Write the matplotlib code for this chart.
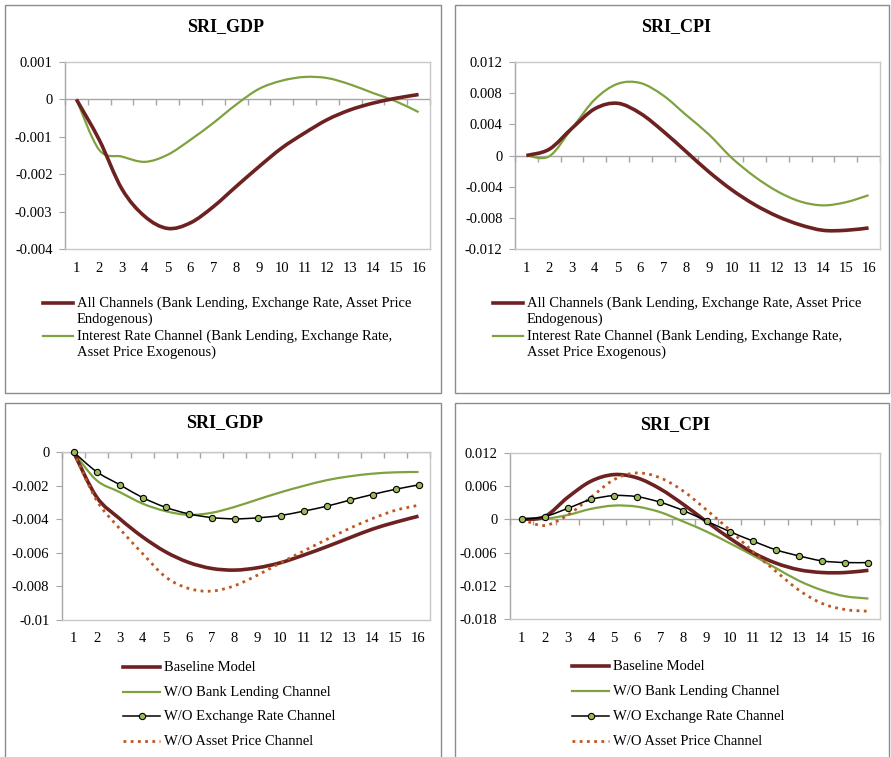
import matplotlib
matplotlib.use("Agg")
import matplotlib.pyplot as plt
import numpy as np
from matplotlib.path import Path
from matplotlib.patches import PathPatch, Rectangle
from matplotlib.lines import Line2D

# -----------------------------------------------------------------------
# Data
# -----------------------------------------------------------------------
periods = list(range(1, 17))

# top row: all channels vs interest-rate channel only
gdp_all = [0, -0.00108, -0.0024, -0.00313, -0.00345, -0.0033, -0.00287, -0.00233,
           -0.0018, -0.0013, -0.0009, -0.00054, -0.00028, -0.0001, 0.00003, 0.00013]
gdp_irc = [0, -0.00135, -0.00153, -0.00167, -0.00148, -0.00108, -0.00063, -0.00014,
           0.00028, 0.0005, 0.0006, 0.00057, 0.0004, 0.00017, -0.00005, -0.00034]
cpi_all = [0, 0.0008, 0.0035, 0.006, 0.0067, 0.0054, 0.0031, 0.0005,
           -0.0021, -0.0044, -0.0063, -0.0078, -0.0089, -0.0096, -0.0096, -0.0093]
cpi_irc = [0, -0.0001, 0.0035, 0.0072, 0.0092, 0.0093, 0.0077, 0.0052,
           0.0027, -0.0003, -0.0027, -0.0046, -0.0059, -0.0064, -0.006, -0.0051]

# bottom row: baseline vs one channel switched off
gdp_base = [0, -0.00267, -0.00396, -0.00505, -0.00594, -0.00657, -0.00693, -0.00703,
            -0.00689, -0.00659, -0.00614, -0.00564, -0.00511, -0.00459, -0.00418, -0.00382]
gdp_nobl = [0, -0.00168, -0.00238, -0.00307, -0.00352, -0.00374, -0.00362, -0.00327,
            -0.00283, -0.0024, -0.00202, -0.00168, -0.00145, -0.00129, -0.00121, -0.00119]
gdp_noer = [0, -0.00117, -0.00194, -0.00271, -0.00329, -0.00368, -0.0039, -0.00398,
            -0.00392, -0.00378, -0.00352, -0.00323, -0.00287, -0.00253, -0.00222, -0.00196]
gdp_noap = [0, -0.00287, -0.00455, -0.00604, -0.00743, -0.00812, -0.00828, -0.00796,
            -0.00733, -0.0066, -0.0059, -0.00521, -0.00455, -0.00396, -0.00347, -0.00317]

cpi_base = [0, 0.0005, 0.004, 0.0069, 0.0081, 0.0075, 0.0055, 0.0027,
            -0.0004, -0.0034, -0.006, -0.0079, -0.0091, -0.0096, -0.0096, -0.0092]
cpi_nobl = [0, 0.0001, 0.0008, 0.0019, 0.0025, 0.0023, 0.0013, -0.0004,
            -0.0022, -0.0043, -0.0065, -0.0088, -0.0111, -0.0128, -0.0139, -0.0143]
cpi_noer = [0, 0.0005, 0.002, 0.0036, 0.0043, 0.0041, 0.0031, 0.0016,
            -0.0003, -0.0022, -0.0039, -0.0055, -0.0066, -0.0075, -0.0078, -0.0078]
cpi_noap = [0, -0.0011, 0.0008, 0.004, 0.0072, 0.0084, 0.0075, 0.0051,
            0.0017, -0.0019, -0.0058, -0.0094, -0.0128, -0.0152, -0.0163, -0.0166]

top_labels = ["All Channels (Bank Lending, Exchange Rate, Asset Price\nEndogenous)",
              "Interest Rate Channel (Bank Lending, Exchange Rate,\nAsset Price Exogenous)"]
bottom_labels = ["Baseline Model", "W/O Bank Lending Channel",
                 "W/O Exchange Rate Channel", "W/O Asset Price Channel"]

# -----------------------------------------------------------------------
# Style
# -----------------------------------------------------------------------
plt.rcParams["font.family"] = ["Liberation Serif", "DejaVu Serif"]
DARKRED = "#6E2121"
GREEN = "#7EA23F"
ORANGE = "#C0571E"
MARKER_FILL = "#9BBB59"
GRID = "#A6A6A6"

W, H = 891, 757
fig = plt.figure(figsize=(W / 100, H / 100), dpi=100)


def px_axes(left, top, right, bottom):
    return fig.add_axes([left / W, 1 - bottom / H, (right - left) / W, (bottom - top) / H])


def smooth_line(ax, x, y, color, lw, ls="-"):
    """Excel-like smoothed line (Catmull-Rom as cubic Bezier)."""
    x = np.asarray(x, float)
    y = np.asarray(y, float)
    P = np.column_stack([x, y])
    Pe = np.vstack([P[0], P, P[-1]])
    verts = [P[0]]
    codes = [Path.MOVETO]
    for i in range(len(P) - 1):
        p0, p1, p2, p3 = Pe[i], Pe[i + 1], Pe[i + 2], Pe[i + 3]
        verts += [p1 + (p2 - p0) / 6, p2 - (p3 - p1) / 6, p2]
        codes += [Path.CURVE4] * 3
    patch = PathPatch(Path(verts, codes), facecolor="none", edgecolor=color,
                      lw=lw, linestyle=ls, zorder=3, capstyle="butt")
    ax.add_patch(patch)


def style_axes(ax, ylim, yticks, ylabels):
    ax.set_xlim(0.5, 16.5)
    ax.set_ylim(*ylim)
    ax.set_yticks(yticks)
    ax.set_yticklabels(ylabels)
    ax.set_xticks(periods)
    ax.set_xticklabels([str(p) for p in periods])
    ax.tick_params(axis="x", length=0, pad=9, labelsize=10.5)
    ax.tick_params(axis="y", length=4, color=GRID, pad=5, labelsize=10.5)
    for s in ax.spines.values():
        s.set_color("#C8C8C8")
        s.set_linewidth(1.0)
    ax.spines["left"].set_color(GRID)
    # zero line with category tick marks
    ax.axhline(0, color=GRID, lw=1.0, zorder=1)
    ax.plot(np.arange(0.5, 17.0, 1.0), [0] * 17, linestyle="none", marker=3,
            markersize=4, color=GRID, clip_on=False, zorder=1)


def legend_rows(x0, x1, xt, rows, fs=10.5):
    for (y, label, kw, marker) in rows:
        fig.add_artist(Line2D([x0 / W, x1 / W], [1 - y / H, 1 - y / H], **kw))
        if marker:
            fig.add_artist(Line2D([(x0 + x1) / 2 / W], [1 - y / H], marker="o",
                                  markersize=4.5, markerfacecolor=MARKER_FILL,
                                  markeredgecolor="black", markeredgewidth=0.8,
                                  linestyle="none"))
        fig.text(xt / W, 1 - (y - 6) / H, label, fontsize=fs, va="top", ha="left",
                 linespacing=1.22)


# outer boxes
for (l, t, r, b) in [(5, 5, 441, 393), (455, 5, 889, 393),
                     (5, 403, 441, 760), (455, 403, 889, 760)]:
    fig.add_artist(Rectangle((l / W, 1 - b / H), (r - l) / W, (b - t) / H,
                             transform=fig.transFigure, fill=False,
                             edgecolor="#8C8C8C", lw=1.0))

# ---- top left: SRI_GDP -------------------------------------------------
ax = px_axes(65, 62, 430, 249)
style_axes(ax, (-0.004, 0.001), [0.001, 0, -0.001, -0.002, -0.003, -0.004],
           ["0.001", "0", "-0.001", "-0.002", "-0.003", "-0.004"])
smooth_line(ax, periods, gdp_irc, GREEN, 1.6)
smooth_line(ax, periods, gdp_all, DARKRED, 2.6)
fig.text(226 / W, 1 - 27 / H, "SRI_GDP", fontsize=13, fontweight="bold",
         ha="center", va="center")

# ---- top right: SRI_CPI ------------------------------------------------
ax = px_axes(515, 62, 880, 249)
style_axes(ax, (-0.012, 0.012), [0.012, 0.008, 0.004, 0, -0.004, -0.008, -0.012],
           ["0.012", "0.008", "0.004", "0", "-0.004", "-0.008", "-0.012"])
smooth_line(ax, periods, cpi_irc, GREEN, 1.6)
smooth_line(ax, periods, cpi_all, DARKRED, 2.6)
fig.text(676 / W, 1 - 27 / H, "SRI_CPI", fontsize=13, fontweight="bold",
         ha="center", va="center")

for x0 in (43, 493):
    legend_rows(x0, x0 + 30, x0 + 34, [
        (303, top_labels[0], dict(color=DARKRED, lw=2.6), False),
        (336, top_labels[1], dict(color=GREEN, lw=1.6), False),
    ])

# ---- bottom left: SRI_GDP ----------------------------------------------
ax = px_axes(62, 452, 430, 620)
style_axes(ax, (-0.01, 0), [0, -0.002, -0.004, -0.006, -0.008, -0.01],
           ["0", "-0.002", "-0.004", "-0.006", "-0.008", "-0.01"])
smooth_line(ax, periods, gdp_nobl, GREEN, 1.6)
smooth_line(ax, periods, gdp_base, DARKRED, 2.6)
smooth_line(ax, periods, gdp_noap, ORANGE, 2.0, ls=(0, (1, 1.6)))
smooth_line(ax, periods, gdp_noer, "black", 1.1)
ax.plot(periods, gdp_noer, linestyle="none", marker="o", markersize=4.5,
        markerfacecolor=MARKER_FILL, markeredgecolor="black", markeredgewidth=0.8,
        zorder=4, clip_on=False)
fig.text(225 / W, 1 - 423 / H, "SRI_GDP", fontsize=13, fontweight="bold",
         ha="center", va="center")

# ---- bottom right: SRI_CPI ---------------------------------------------
ax = px_axes(510, 453, 880, 619)
style_axes(ax, (-0.018, 0.012), [0.012, 0.006, 0, -0.006, -0.012, -0.018],
           ["0.012", "0.006", "0", "-0.006", "-0.012", "-0.018"])
smooth_line(ax, periods, cpi_nobl, GREEN, 1.6)
smooth_line(ax, periods, cpi_base, DARKRED, 2.6)
smooth_line(ax, periods, cpi_noap, ORANGE, 2.0, ls=(0, (1, 1.6)))
smooth_line(ax, periods, cpi_noer, "black", 1.1)
ax.plot(periods, cpi_noer, linestyle="none", marker="o", markersize=4.5,
        markerfacecolor=MARKER_FILL, markeredgecolor="black", markeredgewidth=0.8,
        zorder=4, clip_on=False)
fig.text(675 / W, 1 - 425 / H, "SRI_CPI", fontsize=13, fontweight="bold",
         ha="center", va="center")

for x0, ys in ((123, (667, 692, 716, 741)), (572, (666, 691, 716, 741))):
    legend_rows(x0, x0 + 37, x0 + 41, [
        (ys[0], bottom_labels[0], dict(color=DARKRED, lw=2.6), False),
        (ys[1], bottom_labels[1], dict(color=GREEN, lw=1.6), False),
        (ys[2], bottom_labels[2], dict(color="black", lw=1.1), True),
        (ys[3], bottom_labels[3], dict(color=ORANGE, lw=2.0, linestyle=(0, (1, 1.6))), False),
    ])

fig.savefig("out.png", dpi=100)
